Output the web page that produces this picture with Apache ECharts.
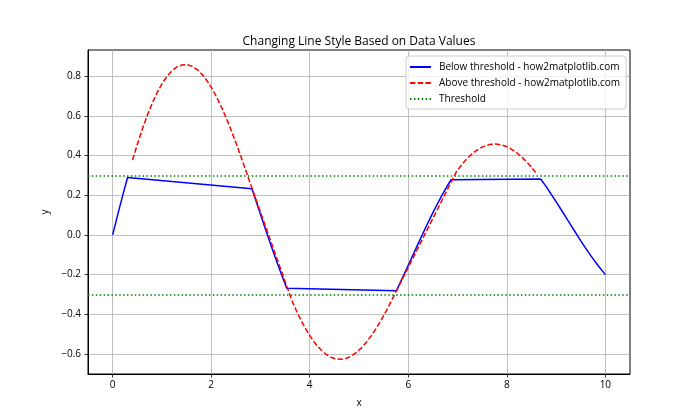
<!DOCTYPE html>
<html>
<head>
<meta charset="utf-8">
<script src="https://cdn.jsdelivr.net/npm/echarts@6/dist/echarts.min.js"></script>
<style>html,body{margin:0;padding:0;background:#fff}#c{width:700px;height:420px}</style>
</head>
<body>
<div id="c"></div>
<script>
// ---- data ----
const belowX = [0, 0.1010, 0.2020, 0.3030,
  2.8283, 2.9293, 3.0303, 3.1313, 3.2323, 3.3333, 3.4343, 3.5354,
  5.7576, 5.8586, 5.9596, 6.0606, 6.1616, 6.2626, 6.3636, 6.4646, 6.5657, 6.6667, 6.7677, 6.8687,
  8.6869, 8.7879, 8.8889, 8.9899, 9.0909, 9.1919, 9.2929, 9.3939, 9.4949, 9.5960, 9.6970, 9.7980, 9.8990, 10];
const belowY = [0, 0.0998, 0.1966, 0.2895,
  0.2323, 0.1572, 0.0820, 0.0075, -0.0656, -0.1366, -0.2047, -0.2694,
  -0.2821, -0.2293, -0.1752, -0.1204, -0.0655, -0.0110, 0.0425, 0.0946, 0.1446, 0.1921, 0.2367, 0.2781,
  0.2822, 0.2470, 0.2099, 0.1715, 0.1320, 0.0920, 0.0519, 0.0121, -0.0271, -0.0653, -0.1019, -0.1369, -0.1697, -0.2001];
const aboveX = [0.4040, 0.5051, 0.6061, 0.7071, 0.8081, 0.9091, 1.0101, 1.1111, 1.2121, 1.3131, 1.4141, 1.5152,
  1.6162, 1.7172, 1.8182, 1.9192, 2.0202, 2.1212, 2.2222, 2.3232, 2.4242, 2.5253, 2.6263, 2.7273,
  3.6364, 3.7374, 3.8384, 3.9394, 4.0404, 4.1414, 4.2424, 4.3434, 4.4444, 4.5455, 4.6465, 4.7475,
  4.8485, 4.9495, 5.0505, 5.1515, 5.2525, 5.3535, 5.4545, 5.5556, 5.6566,
  6.9697, 7.0707, 7.1717, 7.2727, 7.3737, 7.4747, 7.5758, 7.6768, 7.7778, 7.8788, 7.9798, 8.0808,
  8.1818, 8.2828, 8.3838, 8.4848, 8.5859];
const aboveY = [0.3776, 0.4600, 0.5361, 0.6053, 0.6668, 0.7204, 0.7655, 0.8020, 0.8295, 0.8480, 0.8575, 0.8581,
  0.8499, 0.8332, 0.8084, 0.7758, 0.7360, 0.6894, 0.6368, 0.5787, 0.5159, 0.4491, 0.3790, 0.3065,
  -0.3301, -0.3862, -0.4372, -0.4827, -0.5225, -0.5561, -0.5833, -0.6041, -0.6183, -0.6259, -0.6270, -0.6217,
  -0.6101, -0.5925, -0.5693, -0.5407, -0.5072, -0.4692, -0.4272, -0.3816, -0.3331,
  0.3157, 0.3494, 0.3789, 0.4039, 0.4243, 0.4399, 0.4508, 0.4568, 0.4581, 0.4547, 0.4467, 0.4343,
  0.4177, 0.3972, 0.3731, 0.3457, 0.3152];
const thresholds = [0.3, -0.3];
const xTicks = [0, 2, 4, 6, 8, 10];
const yTicks = [-0.6, -0.4, -0.2, 0.0, 0.2, 0.4, 0.6, 0.8];
const seriesNames = ['Below threshold - how2matplotlib.com', 'Above threshold - how2matplotlib.com', 'Threshold'];
const titleText = 'Changing Line Style Based on Data Values';

// ---- chart ----
const FONT = '"Open Sans"';
const pairs = (xs, ys) => xs.map((x, i) => [x, ys[i]]);
const fmtY = v => (v < 0 ? '\u2212' : '') + Math.abs(v).toFixed(1);

const chart = echarts.init(document.getElementById('c'), null, {renderer: 'canvas'});
chart.setOption({
  animation: false,
  backgroundColor: '#fff',
  textStyle: {fontFamily: FONT},
  title: {
    text: titleText, left: 354, top: 31, textAlign: 'center',
    textStyle: {fontFamily: FONT, fontSize: 12, fontWeight: 'normal', color: '#000'}
  },
  grid: {left: 88, right: 70, top: 50, bottom: 46, show: true, borderColor: '#000', borderWidth: 1, backgroundColor: 'transparent'},
  legend: {
    orient: 'vertical', left: 406, top: 56,
    data: seriesNames,
    itemWidth: 21, itemHeight: 10, itemGap: 4,
    padding: [5, 6, 4, 3],
    itemStyle: {opacity: 0},
    backgroundColor: 'rgba(255,255,255,0.8)', borderColor: '#cccccc', borderWidth: 1, borderRadius: 3,
    textStyle: {fontFamily: FONT, fontSize: 10, color: '#000', lineHeight: 12, padding: [0, 0, 0, 3]}
  },
  xAxis: {
    type: 'value', min: -0.5, max: 10.5,
    name: 'x', nameLocation: 'middle', nameGap: 24,
    nameTextStyle: {fontFamily: FONT, fontSize: 10, color: '#000'},
    axisLine: {show: true, onZero: false, lineStyle: {color: '#000', width: 1}},
    axisTick: {show: true, length: 3.5, lineStyle: {color: '#000', width: 0.8}, customValues: xTicks},
    axisLabel: {fontFamily: FONT, fontSize: 10, color: '#000', margin: 6, customValues: xTicks, formatter: v => String(v)},
    splitLine: {show: true, lineStyle: {color: '#b0b0b0', width: 0.8}}
  },
  yAxis: {
    type: 'value', min: -0.7012, max: 0.9323,
    name: 'y', nameLocation: 'middle', nameGap: 27, nameRotate: 90,
    nameTextStyle: {fontFamily: FONT, fontSize: 10, color: '#000'},
    axisLine: {show: true, onZero: false, lineStyle: {color: '#000', width: 1}},
    axisTick: {show: true, length: 3.5, lineStyle: {color: '#000', width: 0.8}, customValues: yTicks},
    axisLabel: {fontFamily: FONT, fontSize: 10, color: '#000', margin: 7, customValues: yTicks, formatter: fmtY},
    splitLine: {show: true, lineStyle: {color: '#b0b0b0', width: 0.8}}
  },
  series: [
    {
      name: seriesNames[0], type: 'line', symbol: 'none', showSymbol: false,
      data: pairs(belowX, belowY),
      lineStyle: {color: '#0000ff', width: 1.5}, itemStyle: {color: '#0000ff'}, z: 3
    },
    {
      name: seriesNames[1], type: 'line', symbol: 'none', showSymbol: false,
      data: pairs(aboveX, aboveY),
      lineStyle: {color: '#ff0000', width: 1.5, type: [5.4, 2.3]}, itemStyle: {color: '#ff0000'}, z: 4
    },
    {
      name: seriesNames[2], type: 'line', symbol: 'none', showSymbol: false, data: [],
      lineStyle: {color: '#008000', width: 1.5, type: [1.5, 2.4]}, itemStyle: {color: '#008000'}, z: 5,
      markLine: {
        silent: true, symbol: ['none', 'none'], label: {show: false},
        lineStyle: {color: '#008000', width: 1.5, type: [1.5, 2.4]},
        data: thresholds.map(t => ({yAxis: t}))
      }
    }
  ]
});
</script>
</body>
</html>
